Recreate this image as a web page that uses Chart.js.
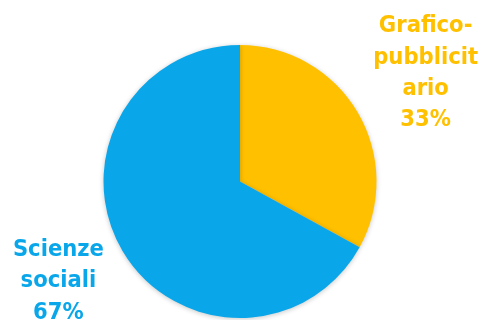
<!DOCTYPE html>
<html>
<head>
<meta charset="utf-8">
<script src="https://cdn.jsdelivr.net/npm/chart.js@4/dist/chart.umd.min.js"></script>
<style>
  html, body { margin: 0; padding: 0; background: #fff; }
  #wrap { width: 486px; height: 320px; position: relative; }
</style>
</head>
<body>
<div id="wrap"><canvas id="pieChart"></canvas></div>
<script>
// dati del grafico
const categories = ['Grafico-pubblicitario', 'Scienze sociali'];
const labelLines = [['Grafico-', 'pubblicit', 'ario'], ['Scienze', 'sociali']];
const values = [33, 67];
const colors = ['#FFC000', '#0AA6EA'];

// ombra leggera attorno alla torta
const shadowPlugin = {
    id: 'pieShadow',
    beforeDatasetDraw(chart) {
        const c = chart.ctx;
        c.save();
        c.shadowColor = 'rgba(0,0,0,0.22)';
        c.shadowBlur = 5;
        c.shadowOffsetX = 0;
        c.shadowOffsetY = 1;
    },
    afterDatasetDraw(chart) {
        chart.ctx.restore();
    }
};

// etichette esterne (nome + percentuale)
const outLabels = {
    id: 'outLabels',
    afterDraw(chart, args, opts) {
        const c = chart.ctx;
        const meta = chart.getDatasetMeta(0);
        c.save();
        c.shadowColor = 'transparent';
        c.shadowBlur = 0;
        c.font = 'bold 23.5px "DejaVu Sans Condensed", "DejaVu Sans", sans-serif';
        c.textAlign = 'center';
        c.textBaseline = 'middle';
        meta.data.forEach((arc, i) => {
            const mid = (arc.startAngle + arc.endAngle) / 2;
            const r = arc.outerRadius * opts.dist[i];
            const cx = arc.x + Math.cos(mid) * r + opts.dx[i];
            const cy = arc.y + Math.sin(mid) * r + opts.dy[i];
            const lines = labelLines[i].concat([values[i] + '%']);
            const lh = 31.3;
            const y0 = cy - (lines.length - 1) * lh / 2;
            c.fillStyle = colors[i];
            lines.forEach((t, k) => c.fillText(t, cx, y0 + k * lh));
        });
        c.restore();
    }
};

new Chart(document.getElementById('pieChart'), {
    type: 'pie',
    data: {
        labels: categories,
        datasets: [{
            data: values,
            backgroundColor: colors,
            borderWidth: 0
        }]
    },
    options: {
        responsive: true,
        maintainAspectRatio: false,
        animation: false,
        layout: { padding: { top: 45, bottom: 2, left: 0, right: 6 } },
        plugins: {
            legend: { display: false },
            tooltip: { enabled: false },
            outLabels: { dist: [1.58, 1.52], dx: [0, -3], dy: [1.5, -6] }
        }
    },
    plugins: [shadowPlugin, outLabels]
});
</script>
</body>
</html>
